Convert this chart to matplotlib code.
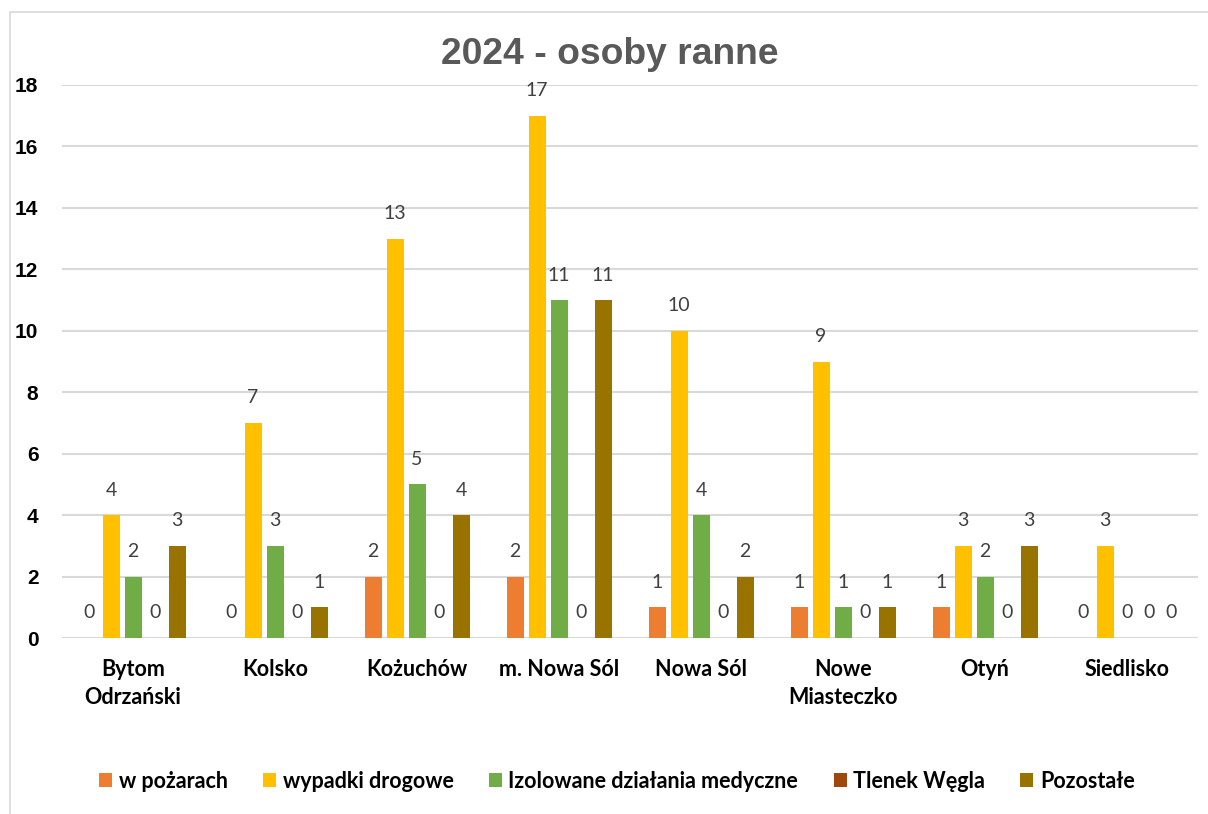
import matplotlib
matplotlib.use("Agg")
import matplotlib.pyplot as plt
import numpy as np
from matplotlib.patches import Rectangle

categories = ["Bytom\nOdrzański", "Kolsko", "Kożuchów", "m. Nowa Sól", "Nowa Sól",
              "Nowe\nMiasteczko", "Otyń", "Siedlisko"]
series_names = ["w pożarach", "wypadki drogowe", "Izolowane działania medyczne",
                "Tlenek Węgla", "Pozostałe"]
w_pozarach = [0, 0, 2, 2, 1, 1, 1, 0]
wypadki_drogowe = [4, 7, 13, 17, 10, 9, 3, 3]
izolowane = [2, 3, 5, 11, 4, 1, 2, 0]
tlenek_wegla = [0, 0, 0, 0, 0, 0, 0, 0]
pozostale = [3, 1, 4, 11, 2, 1, 3, 0]
y_ticks = [0, 2, 4, 6, 8, 10, 12, 14, 16, 18]
title = "2024 - osoby ranne"

series = [w_pozarach, wypadki_drogowe, izolowane, tlenek_wegla, pozostale]
colors = ["#ED7D31", "#FFC000", "#70AD47", "#9E480E", "#997300"]

W, H = 1208, 814
fig = plt.figure(figsize=(W / 100, H / 100), dpi=100)
fig.patch.set_facecolor("white")

# outer chart frame
fig.patches.append(Rectangle((10 / W, -0.1), 1.2, 1 - 12 / H + 0.1,
                             transform=fig.transFigure, fill=False,
                             edgecolor="#D9D9D9", linewidth=1.2))

ax = fig.add_axes([62 / W, 1 - 638 / H, (1198 - 62) / W, (638 - 85) / H])
x = np.arange(len(categories))
step = 22 / 142
bw = 17 / 142
for i, (name, vals, c) in enumerate(zip(series_names, series, colors)):
    pos = x + (i - 2) * step
    ax.bar(pos, vals, width=bw, color=c, label=name, zorder=3)
    for p, v in zip(pos, vals):
        ax.annotate(str(v), (p, v), xytext=(0, 18), textcoords="offset points",
                    ha="center", va="center", fontsize=14, color="#404040",
                    family="Lato")

ax.set_xlim(-0.5, len(categories) - 0.5)
ax.set_ylim(0, 18)
ax.set_yticks(y_ticks)
ax.set_yticklabels([str(t) for t in y_ticks], fontsize=15, fontweight="bold",
                   family="Liberation Sans", color="black")
ax.set_xticks(x)
ax.set_xticklabels(categories, fontsize=15.5, fontweight="bold", family="Lato",
                   color="black", linespacing=1.4)
ax.tick_params(axis="y", length=0, pad=17)
ax.tick_params(axis="x", length=0, pad=15)
for s in ax.spines.values():
    s.set_visible(False)
ax.grid(axis="y", color="#D9D9D9", linewidth=1.5, zorder=0)
ax.set_axisbelow(True)

fig.text(610 / W, 1 - 55 / H, title, ha="center", va="center", fontsize=26.8,
         fontweight="bold", color="#595959", family="Liberation Sans")

leg = fig.legend(loc="center", bbox_to_anchor=(617 / W, 1 - 781 / H), ncol=5,
                 frameon=False, handlelength=0.6, handleheight=0.6,
                 handletextpad=0.3, columnspacing=1.65,
                 prop={"family": "Lato", "weight": "bold", "size": 15.5})

fig.savefig("out.png", dpi=100, facecolor="white")
